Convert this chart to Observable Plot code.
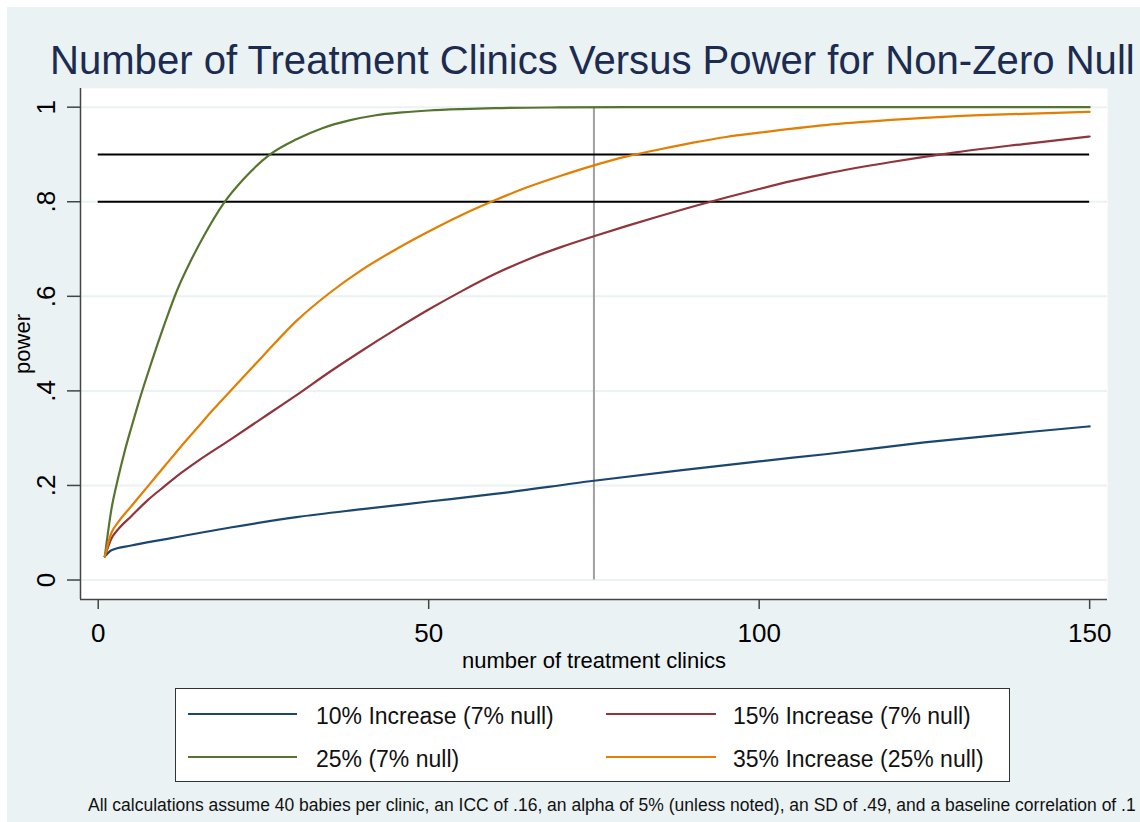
<!DOCTYPE html>
<html><head><meta charset="utf-8">
<script src="https://cdn.jsdelivr.net/npm/d3@7"></script>
<script src="https://cdn.jsdelivr.net/npm/@observablehq/plot@0.6"></script>
<style>
body{margin:0;background:#fff;font-family:"Liberation Sans",Arial,sans-serif;}
#bg{position:absolute;left:7px;top:7px;width:1133px;height:815px;background:#eaf2f3;overflow:hidden;}
#title{position:absolute;left:43px;top:33px;font-size:40.1px;line-height:40px;color:#1c2b50;white-space:nowrap;}
#chart{position:absolute;left:0;top:60px;}
#legend{position:absolute;left:168px;top:681px;width:833px;height:92px;background:#fff;border:1px solid #333;}
.item{position:absolute;font-size:23px;line-height:23px;white-space:nowrap;color:#111;}
.swatch{position:absolute;height:2px;}
#caption{position:absolute;left:81px;top:790px;font-size:17.5px;line-height:17px;white-space:nowrap;color:#111;}
</style></head>
<body>
<div id="bg">
  <div id="title"></div>
  <div id="chart"></div>
  <div id="legend"></div>
  <div id="caption"></div>
</div>
<script>
// ---- data ----
const titleText = "Number of Treatment Clinics Versus Power for Non-Zero Null";
const xLabel = "number of treatment clinics";
const yLabel = "power";
const captionText = "All calculations assume 40 babies per clinic, an ICC of .16, an alpha of 5% (unless noted), an SD of .49, and a baseline correlation of .1";

const seriesNames = ["10% Increase (7% null)", "15% Increase (7% null)", "25% (7% null)", "35% Increase (25% null)"];
const seriesColors = ["#1a476f", "#90353b", "#55752f", "#e37e00"];

const blueX = [1,2,5,10,20,30,40,50,60,75,90,100,110,125,140,150];
const blueY = [0.05,0.063,0.073,0.086,0.111,0.133,0.150,0.166,0.182,0.210,0.235,0.251,0.266,0.291,0.312,0.325];

const redX = [1,2,3,5,7.5,10,12.5,15,20,25,30,35,40,45,50,55,60,65,70,75,80,85,90,95,100,105,110,120,130,140,150];
const redY = [0.05,0.088,0.107,0.135,0.169,0.198,0.226,0.251,0.297,0.344,0.391,0.440,0.486,0.530,0.572,0.611,0.647,0.678,0.704,0.727,0.749,0.770,0.790,0.809,0.827,0.844,0.859,0.884,0.905,0.922,0.938];

const greenX = [1,2,3,4,5,6,7,8,9,10,12,14,16,19,22,26,30,34,38,42,46,50,55,60,70,80,100,150];
const greenY = [0.05,0.15,0.215,0.272,0.322,0.37,0.415,0.458,0.50,0.54,0.615,0.675,0.728,0.797,0.848,0.90,0.932,0.956,0.972,0.983,0.989,0.993,0.996,0.998,0.9995,1,1,1];

const orangeX = [1,2,3,5,7.5,10,12.5,15,17.5,20,25,30,35,40,45,50,55,60,65,70,75,80,85,90,95,100,110,120,130,140,150];
const orangeY = [0.05,0.10,0.122,0.156,0.198,0.24,0.282,0.322,0.362,0.40,0.475,0.548,0.607,0.657,0.699,0.737,0.772,0.803,0.831,0.855,0.877,0.896,0.911,0.925,0.937,0.946,0.962,0.973,0.981,0.986,0.99];

const xTicks = [0,50,100,150];
const yTicks = [0,0.2,0.4,0.6,0.8,1];
const yTickLabels = ["0",".2",".4",".6",".8","1"];
const refLines = [0.8, 0.9];
const refSpan = [0, 150];
const vLine = [75];
const vSpan = [0, 1];

// ---- build ----
const seriesX = [blueX, redX, greenX, orangeX];
const seriesY = [blueY, redY, greenY, orangeY];
const data = [];
seriesNames.forEach((name, s) => {
  seriesX[s].forEach((x, i) => data.push({series: name, x, y: seriesY[s][i]}));
});

const xDomain = [-2.68, 152.7];
const yDomain = [-0.0412, 1.0395];
const font = '"Liberation Sans", Arial, sans-serif';
const axisColor = "#444";

const chart = Plot.plot({
  width: 1133, height: 613,
  marginLeft: 73, marginRight: 33, marginTop: 21, marginBottom: 81,
  style: {fontFamily: font, background: "transparent", color: "#000", overflow: "visible"},
  x: {domain: xDomain},
  y: {domain: yDomain},
  color: {domain: seriesNames, range: seriesColors},
  marks: [
    Plot.frame({fill: "white", stroke: null}),
    Plot.ruleY(yTicks, {stroke: "#eaf2f3", strokeWidth: 2}),
    Plot.ruleX(vLine, {y1: vSpan[0], y2: vSpan[1], stroke: "#a0a0a0", strokeWidth: 2}),
    Plot.ruleY(refLines, {x1: refSpan[0], x2: refSpan[1], stroke: "#000", strokeWidth: 2}),
    Plot.line(data, {x: "x", y: "y", z: "series", stroke: "series", strokeWidth: 2.2, curve: "monotone-x"}),
    Plot.ruleX(xDomain.slice(0, 1), {stroke: axisColor, strokeWidth: 1.5}),
    Plot.ruleY(yDomain.slice(0, 1), {stroke: axisColor, strokeWidth: 1.5}),
    Plot.axisY({ticks: yTicks, tickSize: 13, tickPadding: 13, tickRotate: -90,
      tickFormat: d => yTickLabels[yTicks.indexOf(d)], fontSize: 26, label: null,
      stroke: axisColor, fill: "#000", strokeWidth: 1.5}),
    Plot.axisX({ticks: xTicks, tickSize: 10, tickPadding: 14, fontSize: 26, label: null,
      stroke: axisColor, fill: "#000", strokeWidth: 1.5}),
    Plot.text([xLabel], {text: d => d, frameAnchor: "bottom", dy: 68, lineAnchor: "bottom", fontSize: 22, fill: "#000"}),
    Plot.text([yLabel], {text: d => d, frameAnchor: "left", dx: -51, rotate: -90, lineAnchor: "bottom", textAnchor: "middle", fontSize: 22, fill: "#000"})
  ]
});
document.getElementById("chart").appendChild(chart);
document.getElementById("title").textContent = titleText;
document.getElementById("caption").textContent = captionText;

// legend
const legend = document.getElementById("legend");
const cols = [{lx: 12, lw: 109, tx: 140}, {lx: 430, lw: 110, tx: 557}];
const rows = [{ly: 25, ty: 15.5}, {ly: 68, ty: 58.5}];
seriesNames.forEach((name, i) => {
  const c = cols[i % 2], r = rows[Math.floor(i / 2)];
  const sw = document.createElement("div");
  sw.className = "swatch";
  sw.style.left = c.lx + "px"; sw.style.width = c.lw + "px";
  sw.style.top = (r.ly - 1) + "px"; sw.style.background = seriesColors[i];
  legend.appendChild(sw);
  const t = document.createElement("div");
  t.className = "item";
  t.style.left = c.tx + "px"; t.style.top = r.ty + "px";
  t.textContent = name;
  legend.appendChild(t);
});
</script>
</body></html>
